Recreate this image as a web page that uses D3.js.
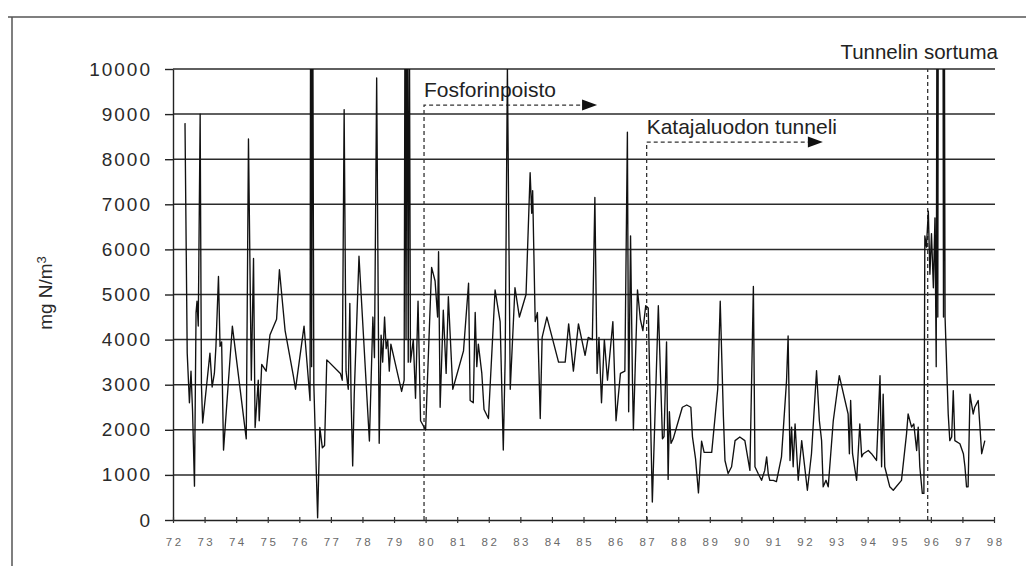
<!DOCTYPE html>
<html>
<head>
<meta charset="utf-8">
<script src="https://cdn.jsdelivr.net/npm/d3@7"></script>
<style>
  html, body { margin: 0; padding: 0; background: #fff; }
  svg { display: block; }
  text { font-family: "Liberation Sans", Arial, sans-serif; }
</style>
</head>
<body>
<svg id="chart" width="1026" height="566"></svg>
<script>
// Total nitrogen, mg N/m3, sampled 1972-1997
const sampleYears = [
  72.38,72.45,72.52,72.57,72.62,72.68,72.73,72.76,72.80,72.86,72.90,72.94,
  73.17,73.24,73.31,73.36,73.44,73.49,73.54,73.60,73.88,
  74.32,74.39,74.48,74.55,74.60,74.70,74.73,74.81,74.95,
  75.07,75.28,75.37,75.55,75.81,75.88,
  76.15,76.34,76.36,76.39,76.42,76.46,76.58,76.65,76.73,76.80,76.87,
  77.30,77.36,77.42,77.48,77.55,77.60,77.64,77.69,77.74,77.89,
  78.22,78.33,78.38,78.45,78.53,78.59,78.64,78.70,78.75,78.80,78.85,78.90,
  79.24,79.32,79.35,79.38,79.41,79.45,79.48,79.52,79.61,79.68,79.76,79.84,
  80.00,80.19,80.30,80.38,80.41,80.46,80.56,80.65,80.72,80.86,
  81.20,81.36,81.41,81.51,81.57,81.62,81.67,81.78,81.85,81.99,
  82.20,82.36,82.46,82.52,82.59,82.68,82.83,82.97,
  83.18,83.31,83.36,83.39,83.47,83.54,83.63,83.69,83.84,
  84.21,84.42,84.53,84.68,84.84,
  85.05,85.15,85.28,85.36,85.43,85.49,85.57,85.66,85.76,85.93,
  86.03,86.17,86.31,86.39,86.43,86.49,86.55,86.58,86.71,86.80,86.88,86.97,
  87.05,87.18,87.37,87.45,87.50,87.55,87.63,87.68,87.72,87.77,87.84,
  88.13,88.27,88.40,88.45,88.55,88.64,88.74,88.82,
  89.06,89.25,89.33,89.43,89.48,89.58,89.69,89.80,89.95,
  90.11,90.27,90.38,90.43,90.53,90.64,90.74,90.80,90.85,90.90,
  91.01,91.11,91.27,91.43,91.48,91.54,91.59,91.64,91.70,91.80,91.91,
  92.09,92.22,92.38,92.47,92.54,92.59,92.68,92.75,92.91,
  93.10,93.38,93.42,93.46,93.52,93.60,93.65,93.75,93.81,93.86,
  94.02,94.12,94.28,94.39,94.44,94.49,94.54,94.70,94.81,
  95.07,95.23,95.28,95.39,95.46,95.55,95.60,95.65,95.73,95.78,
  95.81,95.86,95.92,95.97,96.02,96.08,96.13,96.17,96.20,96.22,96.24,
  96.38,96.40,96.42,96.45,96.55,96.60,96.66,96.71,96.76,96.92,
  97.03,97.08,97.13,97.18,97.24,97.34,97.39,97.50,97.61,97.71
];
const nitrogen = [
  8800,3700,2600,3300,2400,750,4600,4850,4300,9000,3000,2150,
  3700,2950,3250,3850,5400,3850,3950,1550,4300,
  1800,8450,3100,5800,2050,3100,2200,3450,3300,
  4100,4450,5550,4200,3200,2900,
  4300,2650,13000,3400,13000,3000,50,2050,1600,1650,3550,
  3250,3100,9100,3300,2900,4800,2700,1200,2800,5850,
  1750,4500,3600,9800,1700,4100,3500,4500,3800,4000,3300,3900,
  2850,3100,12500,4000,12500,3500,12500,3500,4000,2700,4850,2200,
  2000,5600,5300,4500,5950,2500,4650,3250,4950,2900,
  3750,5250,2650,2600,4600,3400,3900,3250,2450,2250,
  5100,4400,1550,3600,10050,2900,5150,4500,
  5000,7700,6800,7300,4400,4600,2250,4050,4500,
  3500,3500,4350,3300,4350,
  3650,4050,4000,7150,3250,4050,2600,4000,3100,4400,
  2200,3250,3300,8600,2400,6300,3100,2000,5100,4450,4200,4750,
  4700,400,4750,2950,1800,1850,3950,900,2400,1700,1800,
  2500,2550,2500,1850,1350,600,1750,1500,
  1500,2900,4850,2300,1320,1030,1180,1760,1840,
  1760,1100,5180,1180,1030,880,1100,1400,1030,880,
  880,850,1400,3090,4080,1320,2060,1180,2130,880,1760,
  660,1470,3310,2200,1760,735,880,735,2200,
  3200,2350,1470,2650,1470,1100,880,2130,1400,1470,
  1540,1470,1320,3200,1180,2790,1180,735,660,
  880,1910,2350,2060,2130,1540,2060,1180,590,590,
  6300,6050,6850,5450,6350,5150,6700,3400,14000,4500,14000,
  14000,4500,14000,4500,2350,1760,1840,2870,1760,1690,
  1470,1180,735,735,2790,2350,2500,2650,1470,1760
];

const yTicks = [0,1000,2000,3000,4000,5000,6000,7000,8000,9000,10000];
const yTickLabels = ["0","1000","2000","3000","4000","5000","6000","7000","8000","9000","10000"];
const xTicks = d3.range(72, 99);
const xTickLabels = xTicks.map(String);

// Event markers
const markerYears  = [79.95, 87.0, 95.9];
const markerLevels = [9200, 8380, 10000];
const markerEnds   = [85.43, 92.58, null];
const markerLabels = ["Fosforinpoisto", "Katajaluodon tunneli", "Tunnelin sortuma"];

const yTitle = "mg N/m";
const yTitleSup = "3";

const svg = d3.select("#chart");
const W = 1026, H = 566;
const plotL = 173, plotR = 994, plotT = 69, plotB = 520;

const x = d3.scaleLinear().domain([72, 98]).range([plotL, plotR]);
const y = d3.scaleLinear().domain([0, 10000]).range([plotB, plotT]);

svg.append("rect").attr("width", W).attr("height", H).attr("fill", "#fff");

// page frame
svg.append("path")
  .attr("d", `M8,17 H1026 M12,17 V566`)
  .attr("fill", "none").attr("stroke", "#555").attr("stroke-width", 1.5);

// horizontal grid
svg.append("g").selectAll("line")
  .data(yTicks.filter(d => d > 0))
  .join("line")
  .attr("x1", plotL).attr("x2", plotR + 1)
  .attr("y1", d => y(d)).attr("y2", d => y(d))
  .attr("stroke", "#2a2a2a").attr("stroke-width", 1.5);

// y axis
const yAxis = svg.append("g")
  .attr("transform", `translate(${plotL},0)`)
  .call(d3.axisLeft(y).tickValues(yTicks).tickFormat((d, i) => yTickLabels[i])
        .tickSize(8).tickPadding(13).tickSizeOuter(0));
yAxis.select(".domain").attr("stroke", "#222").attr("stroke-width", 1.4);
yAxis.selectAll(".tick line").attr("stroke", "#222").attr("stroke-width", 1.4);
yAxis.selectAll(".tick text")
  .attr("font-size", 19).attr("letter-spacing", "2px").attr("fill", "#2a2a2a")
  .attr("font-family", "Liberation Sans, Arial, sans-serif");

// x axis
const xAxis = svg.append("g")
  .attr("transform", `translate(0,${plotB})`)
  .call(d3.axisBottom(x).tickValues(xTicks).tickFormat((d, i) => xTickLabels[i])
        .tickSize(3).tickPadding(15).tickSizeOuter(0));
xAxis.select(".domain").attr("stroke", "#222").attr("stroke-width", 1.4);
xAxis.selectAll(".tick line").attr("y1", -3).attr("stroke", "#333").attr("stroke-width", 1.2);
xAxis.selectAll(".tick text")
  .attr("font-size", 11.5).attr("letter-spacing", "2.5px").attr("fill", "#6a6a6a")
  .attr("dx", "1.2px")
  .attr("font-family", "Liberation Sans, Arial, sans-serif");

// y title
const yt = svg.append("text")
  .attr("transform", `translate(52,293) rotate(-90)`)
  .attr("text-anchor", "middle")
  .attr("font-size", 19).attr("fill", "#2a2a2a");
yt.append("tspan").text(yTitle);
yt.append("tspan").attr("dy", "-0.5em").attr("font-size", 13).text(yTitleSup);

// event markers
const dash = "4,3";
markerYears.forEach((yr, i) => {
  const mx = x(yr), my = y(markerLevels[i]);
  const g = svg.append("g");
  if (markerEnds[i] !== null) {
    const ex = x(markerEnds[i]);
    g.append("path")
      .attr("d", `M${mx},${plotB} V${my} H${ex - 14}`)
      .attr("fill", "none").attr("stroke", "#333").attr("stroke-width", 1.3)
      .attr("stroke-dasharray", dash);
    g.append("path")
      .attr("d", `M${ex - 15},${my - 5.5} L${ex},${my} L${ex - 15},${my + 5.5} Z`)
      .attr("fill", "#111");
    g.append("text")
      .attr("x", mx).attr("y", my - 8)
      .attr("font-size", 21).attr("fill", "#222")
      .text(markerLabels[i]);
  } else {
    g.append("path")
      .attr("d", `M${mx},${plotB} V${my}`)
      .attr("fill", "none").attr("stroke", "#333").attr("stroke-width", 1.3)
      .attr("stroke-dasharray", dash);
    g.append("text")
      .attr("x", x(98) + 4).attr("y", my - 10)
      .attr("text-anchor", "end")
      .attr("font-size", 20.5).attr("fill", "#222")
      .text(markerLabels[i]);
  }
});

// series line, clipped to the plotting area
svg.append("clipPath").attr("id", "plot-clip")
  .append("rect").attr("x", plotL).attr("y", plotT).attr("width", plotR - plotL + 2).attr("height", plotB - plotT + 1);

const line = d3.line()
  .x((d, i) => x(sampleYears[i]))
  .y(d => y(d));

svg.append("path")
  .datum(nitrogen)
  .attr("clip-path", "url(#plot-clip)")
  .attr("d", line)
  .attr("fill", "none")
  .attr("stroke", "#111")
  .attr("stroke-width", 1.35)
  .attr("stroke-linejoin", "round");
</script>
</body>
</html>
